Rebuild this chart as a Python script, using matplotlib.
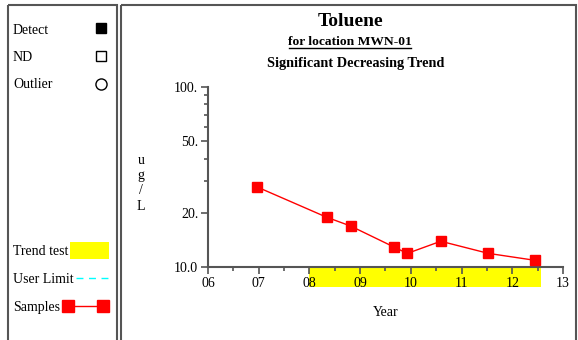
import matplotlib
matplotlib.use("Agg")
import matplotlib.pyplot as plt
from matplotlib.patches import Rectangle
from matplotlib.ticker import FixedLocator, FixedFormatter, NullFormatter
import matplotlib.transforms as mtransforms

plt.rcParams['font.family'] = ['Liberation Serif', 'DejaVu Serif']

# data (decimal year, ug/L)
years = [6.96, 8.34, 8.81, 9.67, 9.93, 10.59, 11.53, 12.44]
conc = [27.9, 18.9, 16.9, 12.9, 11.9, 13.9, 11.9, 10.9]
trend_start, trend_end = 8.0, 12.57
year_ticks = [6, 7, 8, 9, 10, 11, 12, 13]
year_labels = ["06", "07", "08", "09", "10", "11", "12", "13"]
y_ticks = [10, 20, 50, 100]
y_labels = ["10.0", "20.", "50.", "100."]

W, H = 578, 340
fig = plt.figure(figsize=(W / 100, H / 100), dpi=100)

# overlay in pixel coords for frames and legend
bg = fig.add_axes([0, 0, 1, 1])
bg.set_xlim(0, W)
bg.set_ylim(H, 0)
bg.axis("off")

frame_col = "#555555"
bg.add_patch(Rectangle((8, 5), 109, 340, fill=False, ec=frame_col, lw=1.5))
bg.add_patch(Rectangle((121, 5), 455, 340, fill=False, ec=frame_col, lw=1.5))

fs = 10
bg.text(13, 30.5, "Detect", fontsize=fs, va="center")
bg.add_patch(Rectangle((96, 23), 10, 10, fc="black", ec="black"))
bg.text(13, 57.5, "ND", fontsize=fs, va="center")
bg.add_patch(Rectangle((96, 51), 10, 10, fc="white", ec="black", lw=1))
bg.text(13, 84.5, "Outlier", fontsize=fs, va="center")
bg.plot([101], [84], marker="o", ms=8, mfc="white", mec="black", mew=1)

bg.text(13, 251.5, "Trend test", fontsize=fs, va="center")
bg.add_patch(Rectangle((70, 242), 39, 17, fc="yellow", ec="none"))
bg.text(13, 279.5, "User Limit", fontsize=fs, va="center")
bg.plot([76, 109], [278, 278], color="cyan", lw=1, ls=(0, (5, 4)))
bg.text(13, 307.5, "Samples", fontsize=fs, va="center")
bg.plot([68, 103], [306, 306], color="red", lw=1, marker="s", ms=8.5, mfc="red", mec="red")

# titles
bg.text(350, 22, "Toluene", fontsize=14, fontweight="bold", ha="center", va="center")
bg.text(350, 42, "for location MWN-01", fontsize=9.7, fontweight="bold", ha="center", va="center")
bg.plot([289, 411], [47.5, 47.5], color="black", lw=1)
bg.text(356, 63, "Significant Decreasing Trend", fontsize=10.3, fontweight="bold", ha="center", va="center")
for i, ch in enumerate("ug/L"):
    bg.text(141, 161 + i * 15, ch, fontsize=fs, ha="center", va="center")
bg.text(386, 313, "Year", fontsize=fs, ha="center", va="center")

# main plot
ax = fig.add_axes([208 / W, (H - 267) / H, 355 / W, 180 / H])
ax.set_yscale("log")
ax.set_xlim(6, 13)
ax.set_ylim(10, 100)
ax.patch.set_alpha(0)
for s in ["top", "right"]:
    ax.spines[s].set_visible(False)
for s in ["left", "bottom"]:
    ax.spines[s].set_color(frame_col)
    ax.spines[s].set_linewidth(1.5)

ax.plot(years, conc, color="red", lw=1, marker="s", ms=7, mfc="red", mec="red", zorder=3, clip_on=False)

trans = mtransforms.blended_transform_factory(ax.transData, ax.transAxes)
ax.add_patch(Rectangle((trend_start, -20 / 180), trend_end - trend_start, 20 / 180,
                       transform=trans, fc="yellow", ec="none", clip_on=False, zorder=0))

ax.xaxis.set_major_locator(FixedLocator(year_ticks))
ax.xaxis.set_major_formatter(FixedFormatter(year_labels))
ax.xaxis.set_minor_locator(FixedLocator([y + 0.5 for y in year_ticks[:-1]]))
ax.yaxis.set_major_locator(FixedLocator(y_ticks))
ax.yaxis.set_major_formatter(FixedFormatter(y_labels))
ax.yaxis.set_minor_locator(FixedLocator([30, 40, 60, 70, 80, 90]))
ax.yaxis.set_minor_formatter(NullFormatter())
ax.tick_params(axis="both", which="major", labelsize=fs, color=frame_col, width=1.2, length=5, pad=2)
ax.tick_params(axis="both", which="minor", color=frame_col, width=1.2, length=3)

fig.savefig("out.png", dpi=100)
